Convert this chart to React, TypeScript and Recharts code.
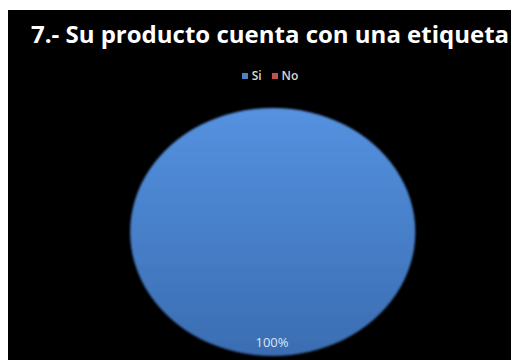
import { PieChart, Pie, Cell } from "recharts";

// answers to question 7
const categories = ["Si", "No"];
const values = [100, 0];
const colors = ["#4f81bd", "#c0504d"];

const data = categories.map((name, i) => ({ name, value: values[i] }));

const W = 512;
const H = 350;
const CX = 260;
const CY = 217;
const R = 124;
const SX = 1.15;

const renderLabel = (props: any) => {
  const { cx, cy, midAngle, outerRadius, percent } = props;
  if (!percent) return null;
  const rad = (-midAngle * Math.PI) / 180;
  const r = outerRadius * 0.89;
  const x = cx + r * Math.cos(rad) * SX;
  const y = cy + r * Math.sin(rad);
  return (
    <text
      x={x}
      y={y}
      fill="#dce6f2"
      fontSize={13}
      fontFamily="Open Sans, sans-serif"
      textAnchor="middle"
      dominantBaseline="central"
    >
      {`${Math.round(percent * 100)}%`}
    </text>
  );
};

export default function App() {
  return (
    <div
      style={{
        position: "relative",
        width: W,
        height: H,
        background: "#000",
        marginLeft: -1,
        marginTop: 2,
      }}
    >
      <style>{`.sq7 .recharts-pie-sector path, .sq7 .recharts-sector { transform: scaleX(${SX}); transform-origin: ${CX}px ${CY}px; }`}</style>
      <div
        style={{
          position: "absolute",
          top: 7,
          left: 0,
          width: W,
          textAlign: "center",
          color: "#fff",
          fontFamily: "Open Sans, sans-serif",
          fontWeight: 700,
          fontSize: 24,
          paddingLeft: 14,
          boxSizing: "border-box",
          whiteSpace: "nowrap",
        }}
      >
        7.- Su producto cuenta con una etiqueta
      </div>
      <div
        style={{
          position: "absolute",
          top: 57,
          left: 0,
          width: W,
          display: "flex",
          justifyContent: "center",
          gap: 10,
          paddingLeft: 14,
          boxSizing: "border-box",
          fontFamily: "Open Sans, sans-serif",
          fontSize: 12,
          fontWeight: 600,
          color: "#d9d9d9",
        }}
      >
        {categories.map((c, i) => (
          <span key={c} style={{ display: "flex", alignItems: "center", gap: 4 }}>
            <span style={{ width: 6, height: 6, background: colors[i], display: "inline-block" }} />
            {c}
          </span>
        ))}
      </div>
      <PieChart width={W} height={H} className="sq7" style={{ position: "absolute", top: 0, left: 0 }}>
        <defs>
          <linearGradient id="siGrad" x1="0" y1="0" x2="0" y2="1">
            <stop offset="0%" stopColor="#5592e0" />
            <stop offset="100%" stopColor="#3a6db2" />
          </linearGradient>
          <filter id="soft" x="-10%" y="-10%" width="120%" height="120%">
            <feGaussianBlur stdDeviation="0.8" />
          </filter>
        </defs>
        <Pie
          data={data}
          dataKey="value"
          nameKey="name"
          cx={CX}
          cy={CY}
          outerRadius={R}
          startAngle={90}
          endAngle={-270}
          stroke="none"
          label={renderLabel}
          labelLine={false}
          isAnimationActive={false}
        >
          {data.map((d, i) => (
            <Cell key={d.name} fill={i === 0 ? "url(#siGrad)" : colors[i]} filter="url(#soft)" />
          ))}
        </Pie>
      </PieChart>
    </div>
  );
}
